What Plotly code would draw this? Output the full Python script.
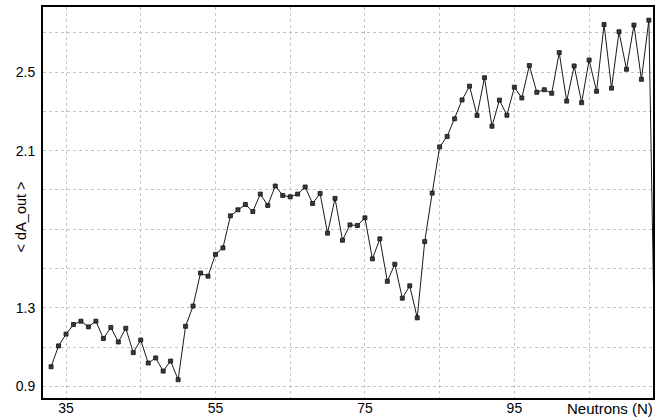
import plotly.graph_objects as go

neutrons = list(range(33, 115))
dA_out = [
    1.000, 1.106, 1.166, 1.215, 1.232, 1.203, 1.232, 1.144, 1.200, 1.126,
    1.196, 1.072, 1.136, 1.019, 1.045, 0.978, 1.029, 0.934, 1.206, 1.309,
    1.477, 1.461, 1.572, 1.605, 1.768, 1.799, 1.826, 1.790, 1.879, 1.821,
    1.920, 1.872, 1.865, 1.879, 1.915, 1.831, 1.882, 1.680, 1.857, 1.644,
    1.722, 1.719, 1.758, 1.549, 1.651, 1.435, 1.522, 1.349, 1.412, 1.249,
    1.637, 1.884, 2.119, 2.172, 2.262, 2.358, 2.428, 2.279, 2.471, 2.224,
    2.357, 2.280, 2.423, 2.368, 2.533, 2.397, 2.410, 2.392, 2.599, 2.352,
    2.531, 2.344, 2.561, 2.402, 2.742, 2.418, 2.705, 2.514, 2.739, 2.463,
    2.764, 0.55,
]

x_tickvals = [35, 45, 55, 65, 75, 85, 95, 105]
x_ticktext = ["35", "", "55", "", "75", "", "95", ""]
y_tickvals = [0.9, 1.1, 1.3, 1.5, 1.7, 1.9, 2.1, 2.3, 2.5, 2.7]
y_ticktext = ["0.9", "", "1.3", "", "", "", "2.1", "", "2.5", ""]

font_family = "Liberation Sans, Arial, sans-serif"

fig = go.Figure()
fig.add_trace(go.Scatter(
    x=neutrons, y=dA_out, mode="lines+markers",
    line=dict(color="#1a1a1a", width=1),
    marker=dict(symbol="square", size=4, color="#3a3a3a",
                line=dict(color="#111111", width=0.8)),
    showlegend=False,
))

fig.update_layout(
    width=667, height=417,
    margin=dict(l=43, r=14, t=7, b=19),
    paper_bgcolor="white", plot_bgcolor="white",
    font=dict(family=font_family, size=14, color="black"),
    xaxis=dict(
        range=[31.92, 113.55], tickvals=x_tickvals, ticktext=x_ticktext,
        showgrid=True, gridcolor="#c4c4c4", griddash="3px,3px", gridwidth=1,
        showline=True, linecolor="black", linewidth=2, mirror=True,
        zeroline=False, ticks="", tickfont=dict(size=14, color="black"),
        automargin=False, ticklabelstandoff=-4,
    ),
    yaxis=dict(
        range=[0.841, 2.831], tickvals=y_tickvals, ticktext=y_ticktext,
        showgrid=True, gridcolor="#c4c4c4", griddash="3px,3px", gridwidth=1,
        showline=True, linecolor="black", linewidth=2, mirror=True,
        zeroline=False, ticks="", tickfont=dict(size=14, color="black"),
        automargin=False, ticklabelstandoff=3,
    ),
    annotations=[
        dict(text="Neutrons (N)", xref="paper", yref="paper", x=1.0, y=0,
             xanchor="right", yanchor="top", xshift=2, yshift=0, showarrow=False,
             font=dict(size=15, color="black")),
        dict(text="< dA_out >", xref="paper", yref="paper", x=-0.036, y=0.462,
             xanchor="center", yanchor="middle", textangle=-90, showarrow=False,
             font=dict(size=14.5, color="black")),
    ],
)

fig.write_html("out.html", config={"displayModeBar": False},
               post_script="document.body.style.margin='0';")
